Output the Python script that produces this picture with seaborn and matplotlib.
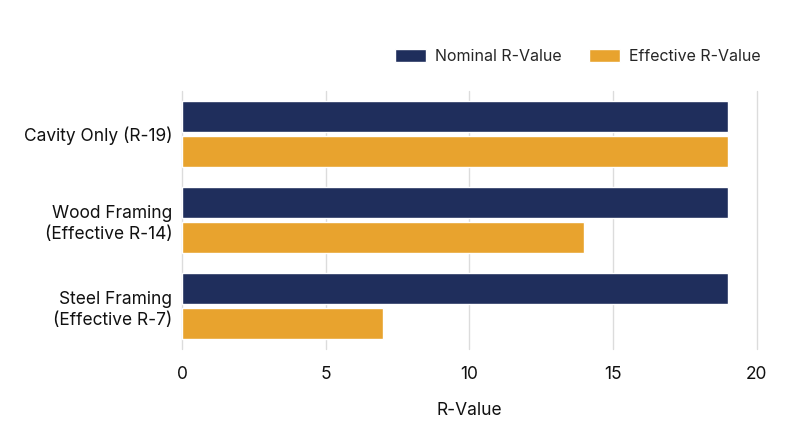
import matplotlib
matplotlib.use("Agg")
import matplotlib.pyplot as plt
import seaborn as sns
import pandas as pd

categories = ["Cavity Only (R-19)", "Wood Framing\n(Effective R-14)", "Steel Framing\n(Effective R-7)"]
nominal = [19, 19, 19]
effective = [19, 14, 7]
series_names = ["Nominal R-Value", "Effective R-Value"]
colors = ["#1f2e5c", "#e8a32e"]

df = pd.DataFrame({
    "category": categories * 2,
    "value": nominal + effective,
    "series": [series_names[0]] * 3 + [series_names[1]] * 3,
})

sns.set_theme(style="white")
plt.rcParams["font.family"] = ["Inter", "DejaVu Sans"]

fig = plt.figure(figsize=(8, 4.47), dpi=100)
ax = fig.add_axes([0.2275, 0.219, 0.7185, 0.578])
sns.barplot(data=df, y="category", x="value", hue="series", orient="h",
            palette=colors, width=0.82, gap=0.12, ax=ax, saturation=1,
            legend=True)
ax.set_xlim(0, 20)
ax.set_xticks([0, 5, 10, 15, 20])
ax.xaxis.grid(True, color="#dcdcdc", linewidth=1)
for gl in ax.get_xgridlines():
    gl.set_clip_on(False)
ax.set_axisbelow(True)
for s in ax.spines.values():
    s.set_visible(False)
ax.tick_params(axis="both", length=0, labelsize=12.5, colors="#111111")
ax.tick_params(axis="x", pad=12)
ax.tick_params(axis="y", pad=7)
for lbl in ax.get_yticklabels():
    lbl.set_linespacing(1.3)
ax.set_ylabel("")
ax.set_xlabel("R-Value", fontsize=12.5, color="#111111", labelpad=14)
ax.legend(loc="lower right", bbox_to_anchor=(1.032, 1.047), ncol=2, frameon=False,
          fontsize=11.5, handlelength=1.95, handleheight=0.9, columnspacing=1.75,
          handletextpad=0.55)
fig.savefig("out.png", dpi=100)
